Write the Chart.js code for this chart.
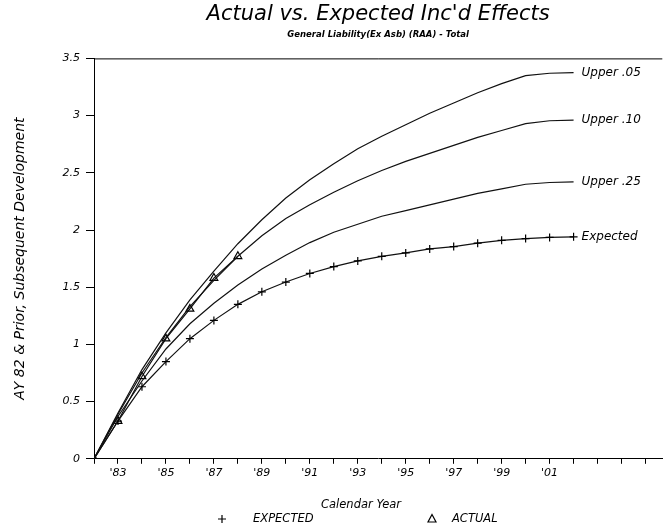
<!DOCTYPE html>
<html>
<head>
<meta charset="utf-8">
<script src="https://cdn.jsdelivr.net/npm/chart.js@4/dist/chart.umd.min.js"></script>
<style>
  html, body { margin: 0; padding: 0; background: #fff; }
</style>
</head>
<body>
<canvas id="devChart" width="668" height="530"></canvas>
<script>
// calendar years of the projection
const years = [1982, 1983, 1984, 1985, 1986, 1987, 1988, 1989, 1990, 1991, 1992,
               1993, 1994, 1995, 1996, 1997, 1998, 1999, 2000, 2001, 2002];

const upper05  = [0, 0.40, 0.78, 1.10, 1.39, 1.64, 1.88, 2.09, 2.28, 2.44, 2.58,
                  2.71, 2.82, 2.92, 3.02, 3.11, 3.20, 3.28, 3.35, 3.37, 3.375];
const upper10  = [0, 0.39, 0.75, 1.06, 1.33, 1.56, 1.77, 1.95, 2.10, 2.22, 2.33,
                  2.43, 2.52, 2.60, 2.67, 2.74, 2.81, 2.87, 2.93, 2.955, 2.96];
const upper25  = [0, 0.37, 0.68, 0.96, 1.18, 1.36, 1.52, 1.66, 1.78, 1.89, 1.98,
                  2.05, 2.12, 2.17, 2.22, 2.27, 2.32, 2.36, 2.40, 2.415, 2.42];
const expected = [0, 0.33, 0.63, 0.85, 1.05, 1.21, 1.35, 1.46, 1.545, 1.62, 1.68,
                  1.73, 1.77, 1.80, 1.835, 1.855, 1.885, 1.91, 1.925, 1.935, 1.94];

const actualYears = [1982, 1983, 1984, 1985, 1986, 1987, 1988];
const actual      = [0, 0.33, 0.72, 1.05, 1.31, 1.58, 1.77];

const seriesNames = ['Upper .05', 'Upper .10', 'Upper .25', 'Expected', 'Actual'];
const legendNames = ['EXPECTED', 'ACTUAL'];
const xAxisTitle = 'Calendar Year';
const labeledYears = [1983, 1985, 1987, 1989, 1991, 1993, 1995, 1997, 1999, 2001];

const FONT = "'DejaVu Sans', 'Liberation Sans', sans-serif";
Chart.defaults.font.family = FONT;
Chart.defaults.font.style = 'italic';
Chart.defaults.color = '#000';

const pts = (xs, ys) => xs.map((x, i) => ({ x: x, y: ys[i] }));

function bandSet(label, values) {
  return {
    label: label,
    data: pts(years, values),
    borderColor: '#111',
    borderWidth: 1.2,
    pointRadius: 0,
    tension: 0,
    fill: false
  };
}

// top frame line of the plot box
const topFrame = {
  id: 'topFrame',
  beforeDatasetsDraw(chart) {
    const { ctx, chartArea } = chart;
    ctx.save();
    ctx.strokeStyle = '#000';
    ctx.lineWidth = 1;
    ctx.beginPath();
    ctx.moveTo(chartArea.left, chartArea.top + 0.5);
    ctx.lineTo(chartArea.right, chartArea.top + 0.5);
    ctx.stroke();
    ctx.restore();
  }
};

// names written at the right end of each band
const endLabels = {
  id: 'endLabels',
  afterDatasetsDraw(chart) {
    const { ctx } = chart;
    ctx.save();
    ctx.font = 'italic 12px ' + FONT;
    ctx.fillStyle = '#000';
    ctx.textBaseline = 'middle';
    for (let i = 0; i < 4; i++) {
      const meta = chart.getDatasetMeta(i);
      const last = meta.data[meta.data.length - 1];
      ctx.fillText(seriesNames[i], last.x + 8, last.y);
    }
    ctx.restore();
  }
};

// axis title and legend row, both a bit left of the plot centre as in the original
const bottomLegend = {
  id: 'bottomLegend',
  afterDraw(chart) {
    const { ctx } = chart;
    const cx = 361;
    const y = 519;
    ctx.save();
    ctx.strokeStyle = '#000';
    ctx.fillStyle = '#000';
    ctx.lineWidth = 1.2;
    ctx.textBaseline = 'middle';

    ctx.font = 'italic 11.5px ' + FONT;
    ctx.textAlign = 'center';
    ctx.fillText(xAxisTitle, cx, 505);

    // plus
    let mx = cx - 139;
    ctx.beginPath();
    ctx.moveTo(mx - 4, y); ctx.lineTo(mx + 4, y);
    ctx.moveTo(mx, y - 4); ctx.lineTo(mx, y + 4);
    ctx.stroke();
    // triangle
    mx = cx + 71;
    ctx.beginPath();
    ctx.moveTo(mx, y - 4.5); ctx.lineTo(mx + 4, y + 3); ctx.lineTo(mx - 4, y + 3);
    ctx.closePath();
    ctx.stroke();

    ctx.textAlign = 'left';
    ctx.fillText(legendNames[0], cx - 108, y);
    ctx.fillText(legendNames[1], cx + 91, y);
    ctx.restore();
  }
};

new Chart(document.getElementById('devChart'), {
  type: 'line',
  data: {
    datasets: [
      bandSet(seriesNames[0], upper05),
      bandSet(seriesNames[1], upper10),
      bandSet(seriesNames[2], upper25),
      {
        label: seriesNames[3],
        data: pts(years, expected),
        borderColor: '#111',
        borderWidth: 1.2,
        pointStyle: 'cross',
        pointRadius: 4,
        pointBorderColor: '#000',
        pointBorderWidth: 1.2,
        tension: 0
      },
      {
        label: seriesNames[4],
        data: pts(actualYears, actual),
        borderColor: '#111',
        borderWidth: 1.2,
        pointStyle: 'triangle',
        pointRadius: 4.5,
        pointBackgroundColor: 'rgba(0,0,0,0)',
        pointBorderColor: '#000',
        pointBorderWidth: 1.2,
        tension: 0
      }
    ]
  },
  options: {
    responsive: false,
    animation: false,
    layout: { padding: { top: 0, right: 0, bottom: 47, left: 0 } },
    plugins: {
      legend: { display: false },
      tooltip: { enabled: false },
      title: {
        display: true,
        fullSize: false,
        text: "Actual vs. Expected Inc'd Effects",
        font: { size: 21, weight: 'normal', style: 'italic' },
        padding: { top: 2, bottom: 2 }
      },
      subtitle: {
        display: true,
        fullSize: false,
        text: 'General Liability(Ex Asb) (RAA) - Total',
        font: { size: 8.5, weight: 'bold', style: 'italic' },
        padding: { top: 0, bottom: 19 }
      }
    },
    scales: {
      x: {
        type: 'linear',
        min: 1982,
        max: 2005.7,
        afterBuildTicks(scale) {
          scale.ticks = [];
          for (let v = 1982; v <= 2005; v++) scale.ticks.push({ value: v });
        },
        ticks: {
          autoSkip: false,
          maxRotation: 0,
          padding: 3,
          font: { size: 11 },
          callback: (v) => labeledYears.includes(v) ? "'" + String(v).slice(2) : ''
        },
        grid: { drawOnChartArea: false, drawTicks: true, tickLength: 5, color: '#000' },
        border: { display: true, color: '#000', width: 1 }
      },
      y: {
        min: 0,
        max: 3.5,
        afterFit(scale) { scale.width = 94; },
        ticks: {
          stepSize: 0.5,
          padding: 6,
          font: { size: 11 },
          callback: (v) => String(v)
        },
        grid: { drawOnChartArea: false, drawTicks: true, tickLength: 8, color: '#000' },
        border: { display: true, color: '#000', width: 1 },
        title: {
          display: true,
          text: 'AY 82 & Prior, Subsequent Development',
          font: { size: 14, style: 'italic' },
          padding: { top: 12, bottom: 0 }
        }
      }
    }
  },
  plugins: [topFrame, endLabels, bottomLegend]
});
</script>
</body>
</html>
